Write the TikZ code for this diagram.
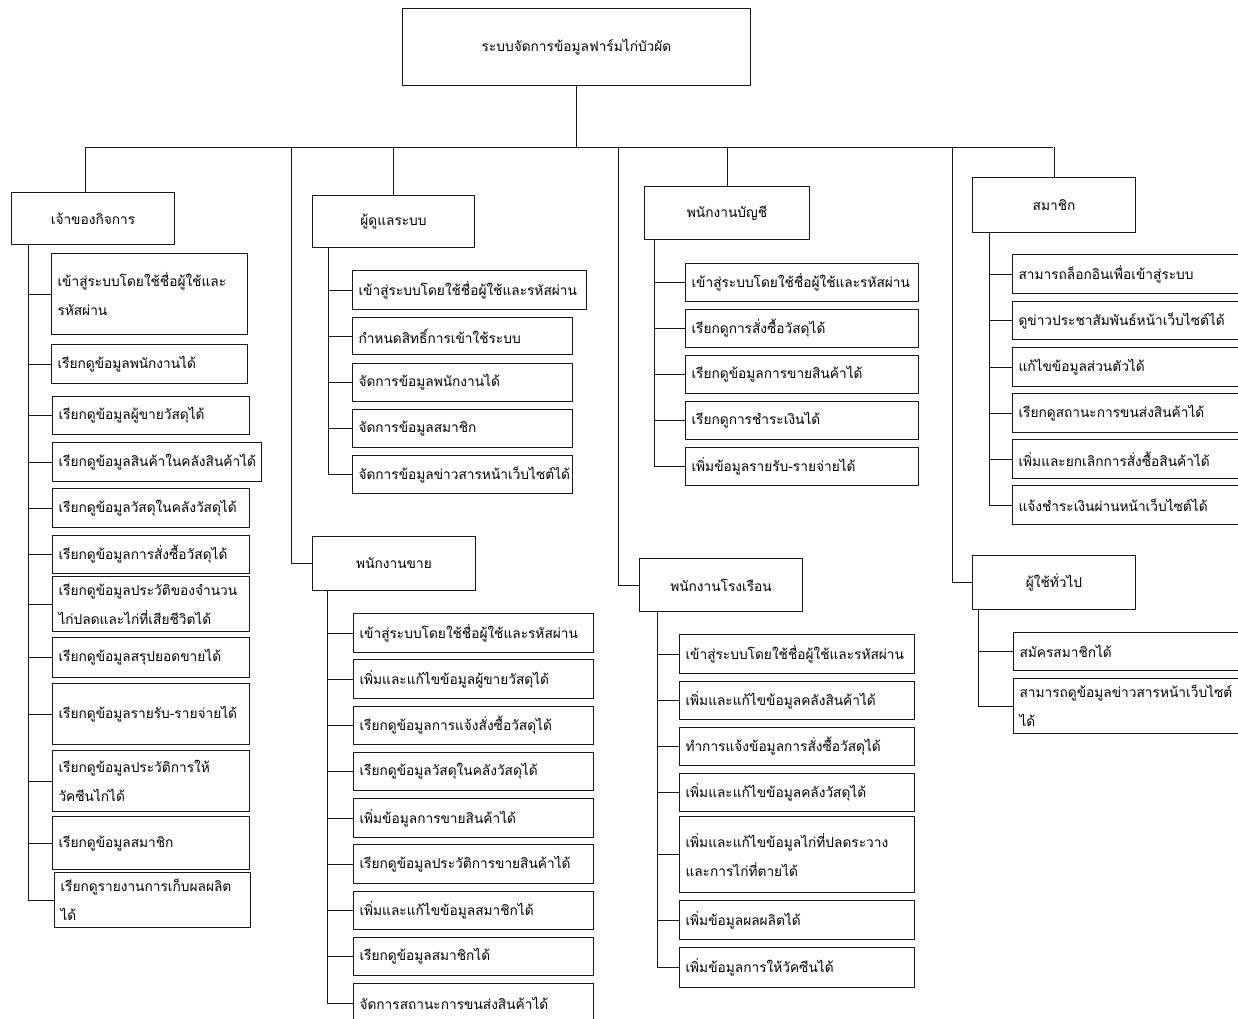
\documentclass[tikz,border=0pt]{standalone}
\usepackage{fontspec}
\newfontfamily\thaifont[Script=Thai]{Loma}
\tikzset{
  ln/.style={line width=1pt, draw=black!90},
  ibox/.style={draw=black!90, line width=1pt, anchor=north west, inner xsep=6pt, inner ysep=0pt, align=left, font=\thaifont\fontsize{13.7}{29}\selectfont},
  hbox/.style={ibox, align=center},
}
\newcommand{\mkbox}[7][ibox]{\pgfmathsetmacro{\tw}{#5-12}\node[#1, minimum width=#5pt, text width=\tw pt, minimum height=#6pt] (#2) at (#3,#4) {#7};}
\begin{document}
\begin{tikzpicture}[x=1pt,y=-1pt]
\useasboundingbox (0,0) rectangle (1238,1018);
% top
\mkbox[hbox]{top}{402}{8}{348}{77}{ระบบจัดการข้อมูลฟาร์มไก่บัวผัด}
% headers
\mkbox[hbox]{owner}{11}{192}{163}{52}{เจ้าของกิจการ}
\mkbox[hbox]{admin}{312}{195}{162}{52}{ผู้ดูแลระบบ}
\mkbox[hbox]{sales}{312}{536}{163}{54}{พนักงานขาย}
\mkbox[hbox]{acct}{644}{186}{165}{53}{พนักงานบัญชี}
\mkbox[hbox]{farm}{639}{558}{163}{53}{พนักงานโรงเรือน}
\mkbox[hbox]{member}{972}{177}{163}{55}{สมาชิก}
\mkbox[hbox]{user}{972}{555}{163}{54}{ผู้ใช้ทั่วไป}
% owner items
\mkbox{o1}{51}{253}{196}{81}{เข้าสู่ระบบโดยใช้ชื่อผู้ใช้และ\\รหัสผ่าน}
\mkbox{o2}{51}{344}{196}{39}{เรียกดูข้อมูลพนักงานได้}
\mkbox{o3}{52}{396}{197}{38}{เรียกดูข้อมูลผู้ขายวัสดุได้}
\mkbox{o4}{52}{442}{209}{39}{เรียกดูข้อมูลสินค้าในคลังสินค้าได้}
\mkbox{o5}{52}{488}{197}{39}{เรียกดูข้อมูลวัสดุในคลังวัสดุได้}
\mkbox{o6}{52}{535}{197}{38}{เรียกดูข้อมูลการสั่งซื้อวัสดุได้}
\mkbox{o7}{52}{576}{197}{55}{เรียกดูข้อมูลประวัติของจำนวน\\ไก่ปลดและไก่ที่เสียชีวิตได้}
\mkbox{o8}{52}{637}{197}{40}{เรียกดูข้อมูลสรุปยอดขายได้}
\mkbox{o9}{52}{683}{197}{61}{เรียกดูข้อมูลรายรับ-รายจ่ายได้}
\mkbox{o10}{52}{750}{197}{61}{เรียกดูข้อมูลประวัติการให้\\วัคซีนไก่ได้}
\mkbox{o11}{52}{816}{197}{53}{เรียกดูข้อมูลสมาชิก}
\mkbox{o12}{54}{872}{196}{55}{เรียกดูรายงานการเก็บผลผลิต\\ได้}
% admin items
\mkbox{a1}{352}{270}{234}{39}{เข้าสู่ระบบโดยใช้ชื่อผู้ใช้และรหัสผ่าน}
\mkbox{a2}{352}{317}{220}{37}{กำหนดสิทธิ์การเข้าใช้ระบบ}
\mkbox{a3}{352}{363}{220}{38}{จัดการข้อมูลพนักงานได้}
\mkbox{a4}{352}{409}{220}{38}{จัดการข้อมูลสมาชิก}
\mkbox{a5}{352}{455}{220}{38}{จัดการข้อมูลข่าวสารหน้าเว็บไซต์ได้}
% sales items
\mkbox{s1}{353}{613}{240}{39}{เข้าสู่ระบบโดยใช้ชื่อผู้ใช้และรหัสผ่าน}
\mkbox{s2}{353}{659}{240}{39}{เพิ่มและแก้ไขข้อมูลผู้ขายวัสดุได้}
\mkbox{s3}{353}{706}{240}{38}{เรียกดูข้อมูลการแจ้งสั่งซื้อวัสดุได้}
\mkbox{s4}{353}{752}{240}{38}{เรียกดูข้อมูลวัสดุในคลังวัสดุได้}
\mkbox{s5}{353}{798}{240}{39}{เพิ่มข้อมูลการขายสินค้าได้}
\mkbox{s6}{353}{844}{240}{39}{เรียกดูข้อมูลประวัติการขายสินค้าได้}
\mkbox{s7}{353}{891}{240}{38}{เพิ่มและแก้ไขข้อมูลสมาชิกได้}
\mkbox{s8}{353}{937}{240}{38}{เรียกดูข้อมูลสมาชิกได้}
\mkbox{s9}{353}{983}{240}{40}{จัดการสถานะการขนส่งสินค้าได้}
% accounting items
\mkbox{c1}{685}{263}{233}{38}{เข้าสู่ระบบโดยใช้ชื่อผู้ใช้และรหัสผ่าน}
\mkbox{c2}{685}{309}{233}{38}{เรียกดูการสั่งซื้อวัสดุได้}
\mkbox{c3}{685}{355}{233}{38}{เรียกดูข้อมูลการขายสินค้าได้}
\mkbox{c4}{685}{401}{233}{38}{เรียกดูการชำระเงินได้}
\mkbox{c5}{685}{447}{233}{38}{เพิ่มข้อมูลรายรับ-รายจ่ายได้}
% farm items
\mkbox{f1}{679}{634}{235}{39}{เข้าสู่ระบบโดยใช้ชื่อผู้ใช้และรหัสผ่าน}
\mkbox{f2}{679}{681}{235}{38}{เพิ่มและแก้ไขข้อมูลคลังสินค้าได้}
\mkbox{f3}{679}{727}{235}{38}{ทำการแจ้งข้อมูลการสั่งซื้อวัสดุได้}
\mkbox{f4}{679}{773}{235}{38}{เพิ่มและแก้ไขข้อมูลคลังวัสดุได้}
\mkbox{f5}{679}{816}{235}{76}{เพิ่มและแก้ไขข้อมูลไก่ที่ปลดระวาง\\และการไก่ที่ตายได้}
\mkbox{f6}{679}{900}{235}{39}{เพิ่มข้อมูลผลผลิตได้}
\mkbox{f7}{679}{947}{235}{40}{เพิ่มข้อมูลการให้วัคซีนได้}
% member items
\mkbox{m1}{1012}{254}{240}{39}{สามารถล็อกอินเพื่อเข้าสู่ระบบ}
\mkbox{m2}{1012}{301}{240}{38}{ดูข่าวประชาสัมพันธ์หน้าเว็บไซต์ได้}
\mkbox{m3}{1012}{347}{240}{39}{แก้ไขข้อมูลส่วนตัวได้}
\mkbox{m4}{1012}{393}{240}{39}{เรียกดูสถานะการขนส่งสินค้าได้}
\mkbox{m5}{1012}{439}{240}{39}{เพิ่มและยกเลิกการสั่งซื้อสินค้าได้}
\mkbox{m6}{1012}{485}{240}{39}{แจ้งชำระเงินผ่านหน้าเว็บไซต์ได้}
% general user items
\mkbox{u1}{1013}{632}{240}{38}{สมัครสมาชิกได้}
\mkbox{u2}{1013}{678}{240}{55}{สามารถดูข้อมูลข่าวสารหน้าเว็บไซต์\\ได้}
% bus
\coordinate (busL) at (85,147);
\coordinate (busR) at (1053,147);
\coordinate (sx) at (291,147);
\coordinate (fx) at (618,147);
\coordinate (ux) at (952,147);
\draw[ln] (busL) -- (busR);
\draw[ln] (top.south) -- (top.south |- busL);
\draw[ln] (busL) -- (busL |- owner.north);
\draw[ln] (admin.north |- busL) -- (admin.north);
\draw[ln] (acct.north |- busL) -- (acct.north);
\draw[ln] (member.north |- busL) -- (member.north);
\draw[ln] (sx) |- (sales.west);
\draw[ln] (fx) |- (farm.west);
\draw[ln] (ux) |- (user.west);
% trunks
\coordinate (ox) at (28,0);
\coordinate (ax) at (328,0);
\coordinate (slx) at (327,0);
\coordinate (cx) at (654,0);
\coordinate (frx) at (657,0);
\coordinate (mx) at (989,0);
\coordinate (gx) at (978,0);
\coordinate (ot) at (owner.south -| ox);
\coordinate (at) at (admin.south -| ax);
\coordinate (st) at (sales.south -| slx);
\coordinate (ct) at (acct.south -| cx);
\coordinate (ft) at (farm.south -| frx);
\coordinate (mt) at (member.south -| mx);
\coordinate (gt) at (user.south -| gx);
\draw[ln] (ot) |- (o12.west);
\foreach \i in {1,...,11} \draw[ln] (ot |- o\i.west) -- (o\i.west);
\draw[ln] (at) |- (a5.west);
\foreach \i in {1,...,4} \draw[ln] (at |- a\i.west) -- (a\i.west);
\draw[ln] (st) |- (s9.west);
\foreach \i in {1,...,8} \draw[ln] (st |- s\i.west) -- (s\i.west);
\draw[ln] (ct) |- (c5.west);
\foreach \i in {1,...,4} \draw[ln] (ct |- c\i.west) -- (c\i.west);
\draw[ln] (ft) |- (f7.west);
\foreach \i in {1,...,6} \draw[ln] (ft |- f\i.west) -- (f\i.west);
\draw[ln] (mt) |- (m6.west);
\foreach \i in {1,...,5} \draw[ln] (mt |- m\i.west) -- (m\i.west);
\draw[ln] (gt) |- (u2.west);
\draw[ln] (gt |- u1.west) -- (u1.west);
\end{tikzpicture}
\end{document}
